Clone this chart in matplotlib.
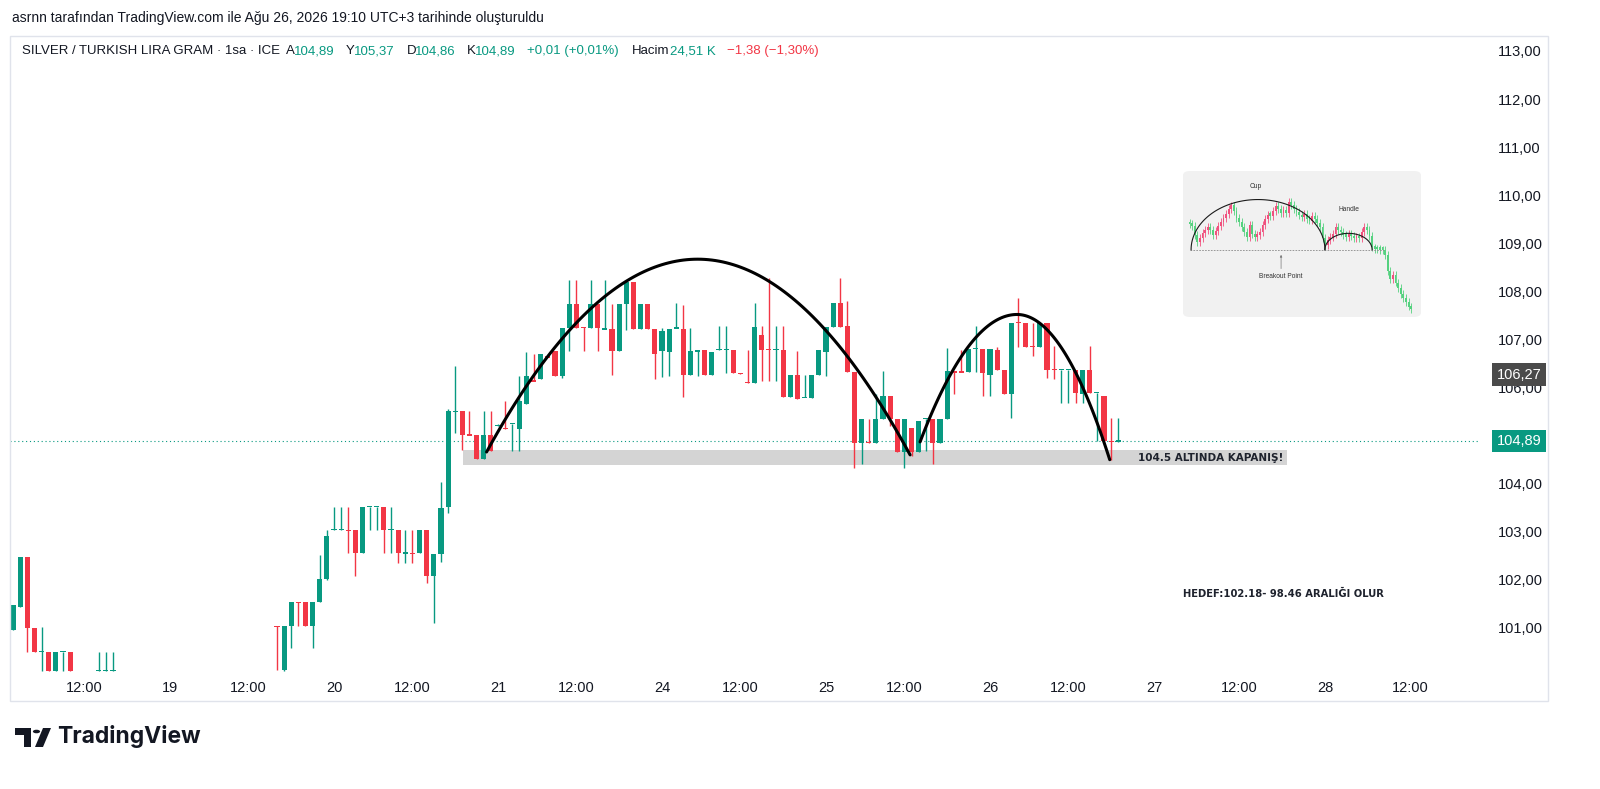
import matplotlib
matplotlib.use('Agg')
import matplotlib.pyplot as plt
import numpy as np
from matplotlib.patches import Rectangle, FancyBboxPatch, Polygon, Circle
import matplotlib.transforms as mtransforms

W, H = 1600, 789
plt.rcParams['font.family'] = ['Liberation Sans', 'DejaVu Sans']

# ---------------- main series (hourly bars, index 0 = Aug 19 first bar) -------------
bar_idx = [-22, -21, -20, -19, -18, -17, -16, -15, -14, -10, -9, -8,
           15, 16, 17, 18, 19, 20, 21, 22, 23, 24, 25, 26, 27, 28, 29, 30,
           31, 32, 33, 34, 35, 36, 37, 38, 39, 40, 41, 42, 43, 44, 45, 46,
           47, 48, 49, 50, 51, 52, 53, 54, 55, 56, 57, 58, 59, 60, 61, 62,
           63, 64, 65, 66, 67, 68, 69, 70, 71, 72, 73, 74, 75, 76, 77, 78,
           79, 80, 81, 82, 83, 84, 85, 86, 87, 88, 89, 90, 91, 92, 93, 94,
           95, 96, 97, 98, 99, 100, 101, 102, 103, 104, 105, 106, 107, 108, 109, 110,
           111, 112, 113, 114, 115, 116, 117, 118, 119, 120, 121, 122, 123, 124, 125, 126,
           127, 128, 129, 130, 131, 132, 133]
opens = [100.96, 101.44, 102.47, 100.99, 100.51, 100.51, 100.11, 100.51, 100.51, 100.11, 100.11, 100.11,
         101.04, 100.13, 101.04, 101.53, 101.53, 101.04, 101.53, 102.02, 103.04, 103.04, 103.04, 103.04, 102.56, 103.52, 103.52, 103.52,
         103.04, 103.04, 102.56, 102.56, 102.56, 103.04, 102.08, 102.54, 103.52, 105.51, 105.51, 105.02, 105.01, 104.52, 105.01, 105.20,
         105.15, 105.25, 105.14, 105.65, 106.14, 106.18, 106.64, 106.76, 106.24, 107.24, 107.73, 107.25, 107.24, 107.73, 107.22, 107.22,
         106.76, 107.73, 108.19, 107.22, 107.73, 107.22, 106.76, 106.74, 107.24, 107.22, 106.27, 106.76, 106.78, 106.27, 106.79, 106.79,
         106.79, 106.30, 106.11, 106.10, 107.09, 106.80, 106.79, 106.79, 105.80, 106.27, 105.80, 105.79, 106.27, 106.74, 107.26, 107.76,
         107.28, 106.32, 104.85, 104.86, 104.85, 105.35, 105.83, 105.35, 104.66, 105.16, 104.66, 105.35, 105.35, 104.85, 105.35, 106.33,
         106.33, 106.32, 106.81, 106.81, 106.27, 106.79, 106.37, 105.87, 107.36, 107.35, 106.86, 106.85, 107.35, 106.38, 106.37, 106.37,
         106.37, 105.87, 106.37, 105.89, 105.82, 104.89, 104.89]
highs = [101.48, 102.47, 102.47, 100.99, 101.03, 100.51, 100.51, 100.51, 100.51, 100.51, 100.51, 100.51,
         101.04, 101.04, 101.53, 101.53, 101.53, 101.53, 102.52, 103.04, 103.52, 103.52, 103.52, 103.04, 103.52, 103.52, 103.52, 103.52,
         103.52, 103.04, 103.04, 103.04, 103.04, 103.04, 102.54, 104.04, 105.55, 106.45, 105.51, 105.51, 105.01, 105.51, 105.51, 105.25,
         105.72, 105.25, 106.24, 106.74, 106.70, 106.69, 106.64, 106.76, 107.24, 108.23, 108.23, 107.25, 108.23, 107.73, 108.23, 107.73,
         107.73, 108.19, 108.19, 107.73, 107.73, 107.22, 107.24, 107.22, 107.76, 107.71, 107.24, 106.76, 106.78, 106.74, 107.28, 107.28,
         106.79, 106.30, 106.79, 107.76, 107.28, 108.28, 107.28, 107.28, 106.27, 106.76, 106.27, 106.27, 106.78, 107.26, 107.76, 108.28,
         107.80, 106.32, 105.35, 105.35, 105.86, 106.34, 105.83, 105.35, 105.35, 105.16, 105.31, 105.35, 105.35, 105.35, 106.83, 106.33,
         106.79, 106.81, 107.29, 106.81, 106.81, 106.85, 106.37, 107.35, 107.87, 107.35, 107.35, 107.35, 107.35, 106.87, 106.37, 106.37,
         106.37, 106.37, 106.87, 105.89, 105.82, 105.37, 105.37]
lows = [100.96, 101.44, 100.51, 100.49, 100.11, 100.11, 100.11, 100.11, 100.11, 100.11, 100.11, 100.11,
        100.13, 100.10, 100.58, 101.04, 101.04, 100.58, 101.53, 102.00, 103.04, 103.04, 102.56, 102.08, 102.56, 103.04, 103.04, 102.56,
        102.56, 102.36, 102.36, 102.36, 102.56, 101.93, 101.10, 102.38, 103.40, 105.06, 104.71, 105.01, 104.52, 104.52, 104.68, 105.20,
        105.14, 104.68, 104.68, 105.65, 106.13, 106.18, 106.63, 106.25, 106.20, 106.76, 107.24, 106.76, 107.24, 106.76, 107.22, 106.27,
        106.76, 107.19, 107.22, 107.22, 107.22, 106.17, 106.22, 106.25, 107.24, 105.80, 106.27, 106.25, 106.27, 106.27, 106.79, 106.31,
        106.31, 106.29, 106.10, 106.10, 106.13, 106.13, 106.13, 105.80, 105.80, 105.77, 105.80, 105.79, 106.27, 106.25, 107.26, 107.26,
        106.32, 104.33, 104.40, 104.85, 104.85, 105.35, 105.20, 104.66, 104.33, 104.57, 104.66, 104.68, 104.40, 104.85, 105.35, 105.86,
        106.32, 106.32, 106.32, 105.82, 105.82, 106.37, 105.86, 105.37, 106.85, 106.85, 106.65, 106.85, 106.20, 106.18, 105.68, 105.68,
        105.68, 105.68, 105.89, 104.89, 104.89, 104.50, 104.86]
closes = [101.48, 102.47, 100.99, 100.49, 100.51, 100.11, 100.51, 100.51, 100.11, 100.11, 100.11, 100.11,
          101.03, 101.04, 101.53, 101.52, 101.04, 101.53, 102.02, 102.92, 103.04, 103.04, 103.03, 102.56, 103.52, 103.52, 103.52, 103.04,
          103.04, 102.56, 102.56, 102.55, 103.04, 102.08, 102.54, 103.49, 105.51, 105.51, 105.01, 105.01, 104.52, 105.01, 104.68, 105.22,
          105.14, 105.25, 105.72, 106.24, 106.13, 106.69, 106.63, 106.25, 107.24, 107.73, 107.24, 107.24, 107.73, 107.24, 107.22, 106.76,
          107.73, 108.19, 107.22, 107.73, 107.22, 106.70, 107.17, 107.22, 107.24, 106.27, 106.76, 106.76, 106.27, 106.74, 106.79, 106.79,
          106.31, 106.29, 106.10, 107.26, 106.79, 106.79, 106.79, 105.80, 106.27, 105.77, 105.80, 106.27, 106.78, 107.26, 107.76, 107.26,
          106.32, 104.85, 105.35, 104.85, 105.35, 105.83, 105.35, 104.66, 105.35, 104.66, 105.31, 105.35, 104.85, 105.35, 106.34, 106.32,
          106.32, 106.81, 106.81, 106.31, 106.81, 106.37, 105.86, 107.35, 107.35, 106.85, 106.85, 107.35, 106.37, 106.37, 106.37, 106.37,
          105.89, 106.37, 105.89, 105.89, 104.89, 104.88, 104.89]

last_price = 104.89
marker_price = 106.27
price_ticks = list(range(101, 114))
time_tick_pos = [-12, 0, 11, 23, 34, 46, 57, 69, 80, 92, 103, 115, 126, 138, 150, 162, 174]
time_tick_lbl = ["12:00", "19", "12:00", "20", "12:00", "21", "12:00", "24", "12:00",
                 "25", "12:00", "26", "12:00", "27", "12:00", "28", "12:00"]

# drawings (bar index, price)
cup_pts = [(44.4, 104.66), (74.0, 108.67), (103.8, 104.60)]
handle_pts = [(105.2, 104.87), (118.8, 107.52), (131.8, 104.50)]
zone_x = (41.1, 156.7)
zone_p = (104.39, 104.70)

# inset (cup & handle illustration) closes
mini_close = [27.3, 26.8, 24.0, 21.8, 23.0, 24.5, 25.5, 26.5, 25.5, 24.0, 25.2, 26.8, 28.0, 29.2, 30.5,
              32.0, 33.0, 31.2, 29.2, 28.0, 26.5, 24.8, 23.5, 27.0, 24.2, 23.4, 24.0, 24.8, 27.0, 29.0,
              30.2, 29.8, 31.4, 32.8, 31.8, 30.8, 31.5, 30.8, 34.0, 33.2, 32.0, 31.0, 30.0, 29.4, 30.4,
              29.0, 28.4, 29.8, 28.8, 27.8, 26.4, 23.0, 20.8, 22.4, 23.4, 24.4, 26.4, 25.4, 24.8, 24.0,
              23.4, 24.2, 23.6, 23.0, 23.5, 23.0, 24.8, 26.4, 25.4, 23.8, 20.2, 19.8, 19.6, 19.4, 19.4,
              17.8, 13.0, 10.5, 11.8, 9.5, 7.8, 6.0, 4.8, 3.5, 2.2, 1.5]
mini_first_open = 27.8
mini_breakout = 19.3

UP = '#089981'
DN = '#F23645'
TXT = '#131722'

fig = plt.figure(figsize=(W / 100, H / 100), dpi=100)
fig.patch.set_facecolor('white')


def fx(x):
    return x / W


def fy(y):
    return 1 - y / H


ax = fig.add_axes([fx(10), fy(675), fx(1478) - fx(10), fy(37) - fy(675)])
ax.set_xlim(-22.44, 183.45)
ax.set_ylim(100.022, 113.291)
for s in ax.spines.values():
    s.set_visible(False)

# zone
ax.add_patch(Rectangle((zone_x[0], zone_p[0]), zone_x[1] - zone_x[0], zone_p[1] - zone_p[0],
                       facecolor='#d4d4d4', edgecolor='none', zorder=1))
ax.text(zone_x[1] - 0.6, (zone_p[0] + zone_p[1]) / 2, "104.5 ALTINDA KAPANIŞ!", ha='right', va='center',
        fontsize=7.5, fontweight='bold', color='#1e222d', family=['DejaVu Sans'], zorder=5)

# candles
x = np.array(bar_idx, dtype=float)
o = np.array(opens); h = np.array(highs); l = np.array(lows); c = np.array(closes)
up = c >= o
cols = np.where(up, UP, DN)
min_h = 0.025
body_lo = np.minimum(o, c)
body_h = np.abs(c - o)
flat = body_h < min_h
body_lo = np.where(flat, (o + c) / 2 - min_h / 2, body_lo)
body_h = np.maximum(body_h, min_h)
ax.vlines(x, l, h, colors=cols, lw=1.0, zorder=3)
ax.bar(x, body_h, bottom=body_lo, width=0.72, color=cols, linewidth=0, zorder=4)

# last price line
ax.axhline(last_price, color=UP, lw=0.8, ls=(0, (1, 2.5)), zorder=2)


def half_parabola(p0, p1, n=60):
    bb = np.linspace(p0[0], p1[0], n)
    t = (bb - p1[0]) / (p0[0] - p1[0])
    return bb, p1[1] - (p1[1] - p0[1]) * t ** 2


for pts in (cup_pts, handle_pts):
    xa, ya = half_parabola(pts[0], pts[1])
    xb, yb = half_parabola(pts[2], pts[1])
    ax.plot(np.r_[xa, xb[::-1]], np.r_[ya, yb[::-1]], color='black', lw=2.2, zorder=6,
            solid_capstyle='round')

ax.text(142.1, 101.71, "HEDEF:102.18- 98.46 ARALIĞI OLUR", ha='left', va='center', fontsize=7.2,
        fontweight='bold', color='#1e222d', family=['DejaVu Sans'], zorder=5)

# axes ticks
ax.yaxis.tick_right()
ax.set_yticks(price_ticks)
ax.set_yticklabels([f"{v},00" for v in price_ticks])
ax.tick_params(axis='y', length=0, pad=14, labelsize=10.5, labelcolor=TXT)
ax.set_xticks(time_tick_pos)
ax.set_xticklabels(time_tick_lbl)
ax.tick_params(axis='x', length=0, pad=4, labelsize=10.5, labelcolor=TXT)

# price labels on axis
blend = mtransforms.blended_transform_factory(fig.transFigure, ax.transData)
for val, bg in ((marker_price, '#4a4a4a'), (last_price, UP)):
    ax.text(fx(1519), val, f"{val:.2f}".replace('.', ','), transform=blend, ha='center', va='center',
            fontsize=10.5, color='white', zorder=10, clip_on=False,
            bbox=dict(boxstyle='square,pad=0.3', facecolor=bg, edgecolor='none'))

# frame
fig.add_artist(Rectangle((fx(10), fy(701)), fx(1548) - fx(10), fy(36) - fy(701), transform=fig.transFigure,
                         fill=False, edgecolor='#e0e3eb', lw=1))

# header texts
fig.text(fx(12), fy(18), "asrnn tarafından TradingView.com ile Ağu 26, 2026 19:10 UTC+3 tarihinde oluşturuldu",
         fontsize=10, color=TXT, va='center')
hdr = [(22, "SILVER / TURKISH LIRA GRAM · 1sa · ICE", TXT), (286, "A", TXT), (294, "104,89", UP),
       (346, "Y", TXT), (354, "105,37", UP), (407, "D", TXT), (415, "104,86", UP),
       (467, "K", TXT), (475, "104,89", UP), (527, "+0,01 (+0,01%)", UP), (632, "Hacim", TXT),
       (670, "24,51 K", UP), (727, "−1,38 (−1,30%)", DN)]
for px, s, col in hdr:
    fig.text(fx(px), fy(51), s, fontsize=9.5, color=col, va='center')

# footer logo
fig.add_artist(Polygon([(fx(15), fy(728)), (fx(31), fy(728)), (fx(31), fy(747)), (fx(24), fy(747)),
                        (fx(24), fy(735)), (fx(15), fy(735))], closed=True, transform=fig.transFigure,
                       facecolor=TXT, edgecolor='none'))
fig.add_artist(Circle((fx(36.5), fy(731.5)), 3.6 / W, transform=fig.transFigure, facecolor=TXT,
                      edgecolor='none'))
fig.add_artist(Polygon([(fx(43), fy(728)), (fx(51), fy(728)), (fx(43), fy(747)), (fx(35), fy(747))],
                       closed=True, transform=fig.transFigure, facecolor=TXT, edgecolor='none'))
fig.text(fx(57), fy(737), "TradingView", fontsize=16.5, fontweight='bold', color=TXT, va='center',
         family=['Inter', 'DejaVu Sans'])

# inset illustration
axi = fig.add_axes([fx(1183), fy(317), fx(1421) - fx(1183), fy(171) - fy(317)])
axi.set_xlim(-2.5, 88.75)
axi.set_ylim(-1.0, 43.5)
axi.axis('off')
axi.add_patch(FancyBboxPatch((0, 0), 1, 1, boxstyle='round,pad=0,rounding_size=0.03',
                             transform=axi.transAxes, facecolor='#f1f1f1', edgecolor='none', zorder=0))
mc = np.array(mini_close)
mo = np.r_[mini_first_open, mc[:-1]]
mx = np.arange(len(mc))
mcols = np.where(mc > mo, '#f0507e', '#55d17f')
axi.vlines(mx, np.minimum(mo, mc) - 1.2, np.maximum(mo, mc) + 1.2, colors=mcols, lw=0.6, zorder=2)
axi.bar(mx, np.maximum(np.abs(mc - mo), 0.8), bottom=np.minimum(mo, mc), width=0.7, color=mcols,
        linewidth=0, zorder=3)
axi.plot([0, 75], [mini_breakout, mini_breakout], color='#8a8a8a', lw=0.6, ls=(0, (2, 1.5)), zorder=2)
th = np.linspace(0, np.pi, 100)
axi.plot(26.25 + 25.65 * np.cos(th), 19.5 + 15.3 * np.sin(th), color='#1a1a1a', lw=0.8, zorder=4)
axi.plot(60.95 + 9.05 * np.cos(th), 19.5 + 5.0 * np.sin(th), color='#1a1a1a', lw=0.8, zorder=4)
axi.annotate("", xy=(35.1, 18.8), xytext=(35.1, 12.9),
             arrowprops=dict(arrowstyle='-|>', color='#777', lw=0.5, mutation_scale=3), zorder=4)
axi.text(25.4, 38.8, "Cup", fontsize=4.8, ha='center', va='center', color='#333')
axi.text(61.25, 31.7, "Handle", fontsize=4.8, ha='center', va='center', color='#333')
axi.text(35.1, 11.2, "Breakout Point", fontsize=4.8, ha='center', va='center', color='#333')

fig.savefig('out.png', dpi=100, facecolor='white')
